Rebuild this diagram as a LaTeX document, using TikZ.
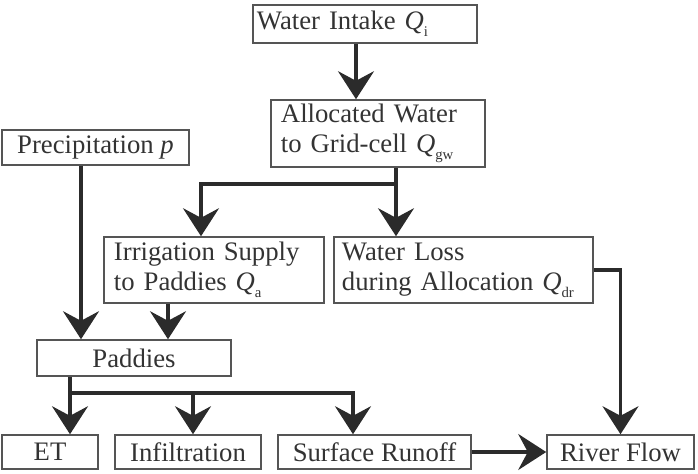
\documentclass[tikz,border=0pt]{standalone}
\usepackage{fontspec}
\setmainfont{Liberation Serif}
\usepackage{tikz}
\usepackage{xcolor}
\usetikzlibrary{arrows.meta}
\definecolor{inkgray}{HTML}{2B2B2B}
\definecolor{textgray}{HTML}{333333}
\definecolor{boxgray}{HTML}{555555}
\newcommand{\Qsub}[1]{\textit{Q}\raisebox{-5pt}{\fontsize{10.5}{10.5}\selectfont #1}}

\begin{document}
\begin{tikzpicture}[x=0.025cm,y=-0.025cm,
  every node/.style={font=\fontsize{19}{21.3}\selectfont, text=textgray},
  box/.style={draw=boxgray, line width=1.1pt, inner ysep=0pt, minimum height=0.875cm},
  leftbox/.style={box, align=left, inner xsep=0.25cm},
  flow/.style={draw=inkgray, line width=2.2pt, -{Stealth[length=0.7cm, width=0.9cm, inset=0.24cm]}},
  link/.style={draw=inkgray, line width=2.2pt}]
\useasboundingbox (0,0) rectangle (698,474);
% boxes
\node[leftbox, inner xsep=0.1cm, text width=5.4cm, minimum height=0.95cm] (intake) at (365,24) {Water Intake \Qsub{i}};
\node[leftbox, text width=4.85cm, minimum height=1.675cm] (alloc) at (378,133.5) {Allocated Water\\\mbox{to Grid-cell \Qsub{gw}}};
\node[box, minimum width=4.675cm] (precip) at (95.5,147.5) {Precipitation \textit{p}};
\node[leftbox, text width=5cm, minimum height=1.65cm] (irrig) at (214,270) {Irrigation Supply\\\mbox{to Paddies \Qsub{a}}};
\node[leftbox, inner xsep=0.2cm, text width=6.075cm, minimum height=1.65cm] (loss) at (463.5,270) {Water Loss\\\mbox{during Allocation \Qsub{dr}}};
\node[box, minimum width=4.85cm, minimum height=0.9cm] (paddies) at (134,358) {Paddies};
\node[box, minimum width=2.4cm, minimum height=0.85cm] (et) at (50,452) {ET};
\node[box, minimum width=3.65cm, minimum height=0.85cm] (infil) at (188,452) {Infiltration};
\node[box, minimum width=4.825cm, minimum height=0.85cm] (runoff) at (374.5,452) {Surface Runoff};
\node[box, minimum width=3.675cm, minimum height=0.85cm] (river) at (620.5,452) {River Flow};
% kinks and columns
\coordinate (split) at (396,184);
\coordinate (fan) at (70,393);
\coordinate (cQi) at (356,0);
\coordinate (cP) at (81,0);
\coordinate (cQa) at (168,0);
\coordinate (cIr) at (201,0);
\coordinate (cIn) at (193,0);
\coordinate (cRo) at (353,0);
% connectors
\draw[flow] (intake.south -| cQi) -- (alloc.north -| cQi);
\draw[link] (alloc.south -| split) -- (split);
\draw[flow] (split) -| (irrig.north -| cIr);
\draw[flow] (split) -- (loss.north -| split);
\draw[flow] (precip.south -| cP) -- (paddies.north -| cP);
\draw[flow] (irrig.south -| cQa) -- (paddies.north -| cQa);
\draw[link] (paddies.south -| fan) -- (fan);
\draw[flow] (fan) -- (et.north -| fan);
\draw[flow] (fan) -| (infil.north -| cIn);
\draw[flow] (fan) -| (runoff.north -| cRo);
\draw[flow] (loss.east) -| (river.north);
\draw[flow] (runoff.east) -- (river.west);
\end{tikzpicture}
\end{document}
